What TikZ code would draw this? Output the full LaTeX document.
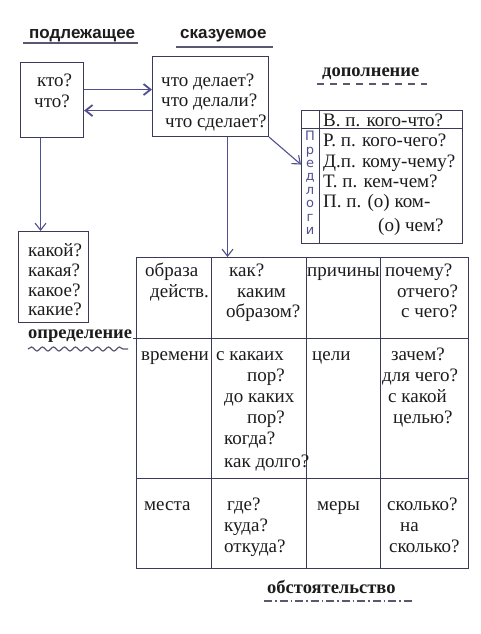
\documentclass[tikz,border=0pt]{standalone}
\usepackage{fontspec}
\setmainfont{Liberation Serif}
\newfontfamily\labsans{Liberation Sans}
\newfontfamily\handfont{DejaVu Sans}
\usetikzlibrary{arrows.meta,decorations.pathmorphing}
\definecolor{ink}{HTML}{3A3A5A}
\definecolor{arrc}{HTML}{505090}
\definecolor{txtc}{HTML}{1C1C1C}
\newcommand{\ctext}[4]{\node[txt] (#1) at (#2,#3) {#4};}
\begin{document}
\begin{tikzpicture}[x=1pt,y=-1pt,
  frame/.style={draw=ink,line width=1.1pt,inner sep=0pt,anchor=north west},
  txt/.style={anchor=base west,inner sep=0pt,font=\fontsize{19}{22}\selectfont,text=txtc},
  headsans/.style={anchor=base west,inner sep=0pt,font=\labsans\bfseries\fontsize{17}{20}\selectfont,text=txtc},
  headserif/.style={anchor=base west,inner sep=0pt,font=\bfseries\fontsize{18.5}{21}\selectfont,text=txtc},
  conn/.style={draw=arrc,line width=1.1pt,-{Straight Barb[length=7pt,width=11pt]}},
  thickconn/.style={conn,line width=1.8pt},
  gridline/.style={draw=ink,line width=1pt},
  uline/.style={draw=ink!85,line width=1.2pt}]
\fill[white] (0,0) rectangle (481,634);
\useasboundingbox (0,0) rectangle (481,634);

% headings
\node[headsans] (hsubj) at (29,38) {подлежащее};
\draw[uline] (23,43) -- (138,43);
\node[headsans] (hpred) at (180,38) {сказуемое};
\draw[uline] (176,47) -- (273,47);
\node[headserif] (hobj) at (322,77) {дополнение};
\draw[uline,dash pattern=on 7pt off 6pt] (317,84) -- (427,84);
\node[headserif] (hattr) at (28,338) {определение};
\draw[uline,decorate,decoration={snake,amplitude=2pt,segment length=11pt}] (28,349) -- (128,349);
\node[headserif] (hadv) at (267,593) {обстоятельство};
\draw[uline,dash pattern=on 8pt off 3pt on 1.5pt off 3pt] (264,601) -- (413,601);

% boxes
\node[frame,minimum width=63pt,minimum height=75pt] (subj) at (20,62) {};
\node[frame,minimum width=116pt,minimum height=80pt] (pred) at (152,56) {};
\node[frame,minimum width=70pt,minimum height=91pt] (attr) at (18,231) {};
\node[frame,minimum width=161pt,minimum height=133pt] (obj) at (301,110) {};
\node[frame,minimum width=332pt,minimum height=311pt] (adv) at (136,257) {};

% inner lines
\draw[gridline] (319,110) -- (319,243);
\draw[gridline] (301,128) -- (462,128);
\draw[gridline] (133,338) -- (468,338);
\draw[gridline] (136,478) -- (468,478);
\draw[gridline] (211,257) -- (211,568);
\draw[gridline] (306,257) -- (306,568);
\draw[gridline] (380,257) -- (380,568);

% connectors
\draw[thickconn] ([yshift=10.5pt]subj.east) -- ([yshift=10.5pt]subj.east -| pred.west);
\draw[thickconn] ([yshift=-10.5pt]subj.east -| pred.west) -- ([yshift=-10.5pt]subj.east);
\draw[conn] ([xshift=-11.5pt]subj.south) -- ([xshift=-11.5pt]subj.south |- attr.north);
\draw[conn] ([xshift=17pt]pred.south) -- ([xshift=17pt]pred.south |- adv.north);
\draw[conn] (pred.south east) -- ([yshift=12.5pt]obj.west);

% subject / predicate texts
\ctext{s1}{37}{86}{кто?}
\ctext{s2}{34}{107}{что?}
\ctext{p1}{161}{86}{что делает?}
\ctext{p2}{161}{106}{что делали?}
\ctext{p3}{165}{127}{что сделает?}

% attribute
\ctext{a1}{28}{256}{какой?}
\ctext{a2}{28}{276}{какая?}
\ctext{a3}{28}{296}{какое?}
\ctext{a4}{28}{315}{какие?}

% object
\ctext{o1}{323}{126}{В. п. кого-что?}
\ctext{o2}{323}{146}{Р. п. кого-чего?}
\ctext{o3}{323}{167}{Д.п. кому-чему?}
\ctext{o4}{323}{187}{Т. п. кем-чем?}
\ctext{o5}{323}{207}{П. п. (о) ком-}
\ctext{o6}{378}{231}{(о) чем?}
\node[font=\handfont\fontsize{13}{13.4}\selectfont,text=arrc,align=center,inner sep=0pt,anchor=north] (prep) at (310,131) {П\\р\\е\\д\\л\\о\\г\\и};

% adverbial table
\ctext{t1}{145}{276}{образа}
\ctext{t2}{150}{297}{действ.}
\ctext{t3}{229}{276}{как?}
\ctext{t4}{237}{297}{каким}
\ctext{t5}{226}{317}{образом?}
\ctext{t6}{307}{276}{причины}
\ctext{t7}{385}{276}{почему?}
\ctext{t8}{397}{297}{отчего?}
\ctext{t9}{401}{317}{с чего?}
\ctext{t10}{141}{360}{времени}
\ctext{t11}{216}{360}{с какаих}
\ctext{t12}{247}{381}{пор?}
\ctext{t13}{224}{402}{до каких}
\ctext{t14}{247}{423}{пор?}
\ctext{t15}{224}{444}{когда?}
\ctext{t16}{224}{467}{как долго?}
\ctext{t17}{312}{360}{цели}
\ctext{t18}{391}{360}{зачем?}
\ctext{t19}{382}{381}{для чего?}
\ctext{t20}{388}{402}{с какой}
\ctext{t21}{393}{423}{целью?}
\ctext{t22}{144}{510}{места}
\ctext{t23}{227}{510}{где?}
\ctext{t24}{224}{531}{куда?}
\ctext{t25}{224}{552}{откуда?}
\ctext{t26}{317}{510}{меры}
\ctext{t27}{387}{510}{сколько?}
\ctext{t28}{400}{531}{на}
\ctext{t29}{389}{552}{сколько?}
\end{tikzpicture}
\end{document}
